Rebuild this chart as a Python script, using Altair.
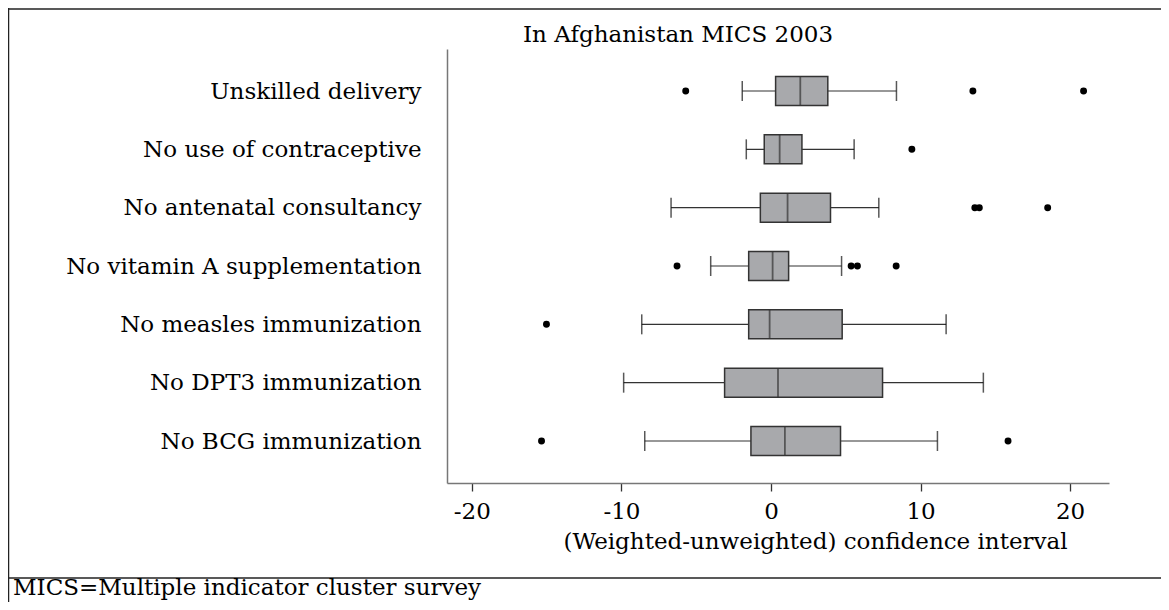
import altair as alt
import pandas as pd

FONT = "DejaVu Serif"
FS = 23

categories = [
    "Unskilled delivery",
    "No use of contraceptive",
    "No antenatal consultancy",
    "No vitamin A supplementation",
    "No measles immunization",
    "No DPT3 immunization",
    "No BCG immunization",
]
whisker_low = [-1.92, -1.65, -6.68, -4.03, -8.64, -9.85, -8.44]
q1 = [0.31, -0.45, -0.71, -1.49, -1.49, -3.10, -1.34]
median = [1.96, 0.58, 1.11, 0.11, -0.09, 0.47, 0.93]
q3 = [3.80, 2.07, 3.98, 1.18, 4.76, 7.46, 4.65]
whisker_high = [8.39, 5.56, 7.21, 4.72, 11.71, 14.20, 11.13]

outlier_cat = [
    "Unskilled delivery", "Unskilled delivery", "Unskilled delivery",
    "No use of contraceptive",
    "No antenatal consultancy", "No antenatal consultancy", "No antenatal consultancy",
    "No vitamin A supplementation", "No vitamin A supplementation",
    "No vitamin A supplementation", "No vitamin A supplementation",
    "No measles immunization",
    "No BCG immunization", "No BCG immunization",
]
outlier_val = [-5.7, 13.5, 20.9, 9.42, 13.63, 13.93, 18.5,
               -6.28, 5.36, 5.78, 8.37, -15.01, -15.34, 15.85]

title_text = "In Afghanistan MICS 2003"
x_title = "(Weighted-unweighted) confidence interval"
footer_text = "MICS=Multiple indicator cluster survey"
x_ticks = [-20, -10, 0, 10, 20]

stats = pd.DataFrame({
    "cat": categories, "lo": whisker_low, "q1": q1, "med": median,
    "q3": q3, "hi": whisker_high,
})
outliers = pd.DataFrame({"cat": outlier_cat, "v": outlier_val})
one = pd.DataFrame({"k": [0]})

xscale = alt.Scale(domain=[-21.66, 22.6], nice=False, zero=False)
xaxis = alt.Axis(values=x_ticks, title=x_title, grid=False, tickSize=8,
                 labelPadding=9, labelExpr="'' + datum.value",
                 titleX=368, titleY=65, titleBaseline="alphabetic",
                 titleAlign="center", titleAnchor="start")
yscale = alt.Scale(type="point", domain=categories, padding=0.72)
yaxis = alt.Axis(title=None, ticks=False, labelPadding=26, labelLimit=600,
                 labelBaseline="middle", labelOffset=0)

Y = alt.Y("cat:N", scale=yscale, axis=yaxis, sort=categories)

base = alt.Chart(stats)

whisk = base.mark_rule(color="#333333", strokeWidth=1.2).encode(
    x=alt.X("lo:Q", scale=xscale, axis=xaxis), x2="hi:Q", y=Y)
box = base.mark_bar(size=29, color="#a8a9ac", stroke="#333333", strokeWidth=1.5).encode(
    x=alt.X("q1:Q", scale=xscale, axis=xaxis), x2="q3:Q", y=Y)
med = base.mark_tick(size=29, thickness=1.8, color="#333333").encode(
    x=alt.X("med:Q", scale=xscale, axis=xaxis), y=Y)
cap_lo = base.mark_tick(size=20, thickness=1.5, color="#111111").encode(
    x=alt.X("lo:Q", scale=xscale, axis=xaxis), y=Y)
cap_hi = base.mark_tick(size=20, thickness=1.5, color="#111111").encode(
    x=alt.X("hi:Q", scale=xscale, axis=xaxis), y=Y)
outl = alt.Chart(outliers).mark_circle(size=48, color="black", opacity=1).encode(
    x=alt.X("v:Q", scale=xscale, axis=xaxis), y=Y)

deco = alt.Chart(one)
frame_left = deco.mark_rule(color="#222222", strokeWidth=1.5).encode(
    x=alt.value(-438.5), y=alt.value(-41), y2=alt.value(553))
header_line = deco.mark_rule(color="#222222", strokeWidth=1.5).encode(
    x=alt.value(-439), x2=alt.value(714), y=alt.value(-40))
footer_line = deco.mark_rule(color="#222222", strokeWidth=1.5).encode(
    x=alt.value(-439), x2=alt.value(714), y=alt.value(529))
footer = deco.mark_text(align="left", baseline="alphabetic", font=FONT,
                        fontSize=FS, color="black").encode(
    x=alt.value(-434), y=alt.value(546), text=alt.value(footer_text))
title = deco.mark_text(align="left", baseline="alphabetic", font=FONT,
                       fontSize=FS, color="black").encode(
    x=alt.value(76), y=alt.value(-7), text=alt.value(title_text))

chart = alt.layer(
    whisk, box, med, cap_lo, cap_hi, outl,
    frame_left, header_line, footer_line, footer, title,
).properties(
    width=662, height=434,
    autosize=alt.AutoSizeParams(type="none"),
    padding={"left": 439, "top": 41, "right": 52, "bottom": 119},
).configure_view(stroke=None).configure_axis(
    labelFont=FONT, labelFontSize=FS, titleFont=FONT, titleFontSize=FS,
    titleFontWeight="normal", labelColor="black", titleColor="black",
    domainColor="#777777", domainWidth=1.5, tickColor="#333333", tickWidth=1.3,
)

chart.save("out.html", embed_options={"renderer": "svg", "actions": False})
